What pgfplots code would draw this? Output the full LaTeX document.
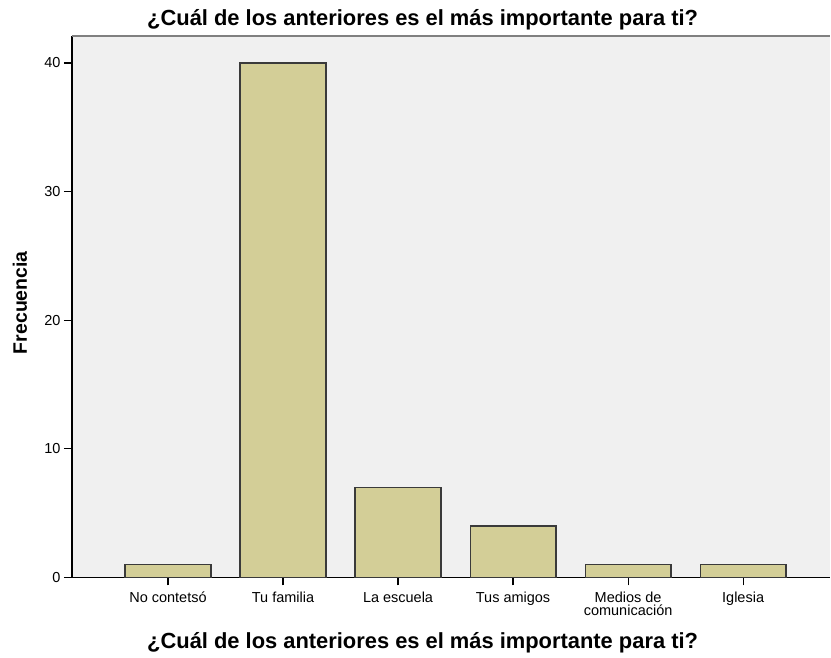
\documentclass[border=0pt]{standalone}
\usepackage{fontspec}
\setmainfont{Liberation Sans}
\usepackage{pgfplots}
\pgfplotsset{compat=1.18}
\definecolor{barfill}{HTML}{D3CE97}
\definecolor{bgc}{HTML}{F0F0F0}
\definecolor{edge}{HTML}{3A3A3A}
\begin{document}
\begin{tikzpicture}
\begin{axis}[
  at={(0,0)}, anchor=south west,
  scale only axis, width=759pt, height=542pt,
  xmin=-0.835, xmax=5.757, ymin=0, ymax=42.1,
  axis x line*=bottom, axis y line*=left,
  axis line style={black, line width=1.2pt, -},
  axis background/.style={fill=bgc},
  ybar, bar width=86pt,
  xtick=data,
  xticklabels={No contetsó, Tu familia, La escuela, Tus amigos, {Medios de\\comunicación}, Iglesia},
  xticklabel style={align=center, font=\fontsize{14.5}{13}\selectfont, yshift=-3pt},
  ytick={0,10,20,30,40},
  yticklabel style={font=\fontsize{14.5}{16}\selectfont},
  /pgf/number format/assume math mode=true,
  tick style={black, line width=1.2pt},
  tick align=outside, major tick length=8pt,
  clip=false,
]
\addplot[fill=barfill, draw=edge, line width=1.2pt] coordinates {(0,1) (1,40) (2,7) (3,4) (4,1) (5,1)};
\draw[gray, line width=1.6pt] (rel axis cs:0,1) -- (rel axis cs:1,1);
\node[font=\fontsize{19.5}{21}\selectfont\bfseries, rotate=90] at ([xshift=-52pt, yshift=4pt]rel axis cs:0,0.5) {Frecuencia};
\node[font=\fontsize{21.9}{24}\selectfont\bfseries] at ([yshift=16pt]rel axis cs:0.4625,1) {¿Cuál de los anteriores es el más importante para ti?};
\node[font=\fontsize{21.9}{24}\selectfont\bfseries] at ([yshift=-65pt]rel axis cs:0.4625,0) {¿Cuál de los anteriores es el más importante para ti?};
\end{axis}
\path[use as bounding box] (-72pt,-80pt) rectangle (759pt,578pt);
\end{tikzpicture}
\end{document}
